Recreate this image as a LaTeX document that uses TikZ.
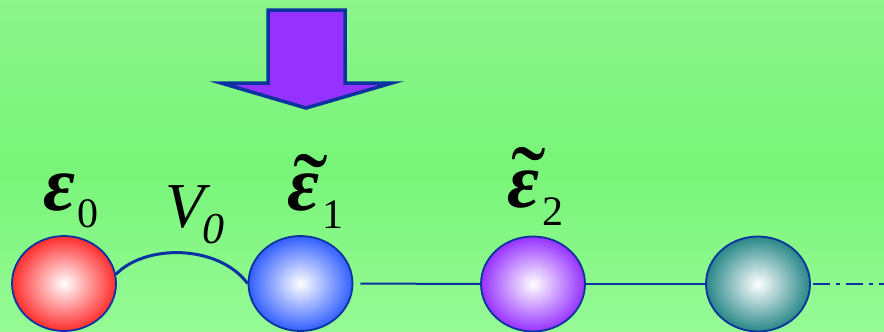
\documentclass[tikz,border=0pt]{standalone}
\usepackage{fontspec}
\setmainfont{Liberation Serif}
\usetikzlibrary{shapes.geometric}
\definecolor{bgtop}{RGB}{140,245,140}
\definecolor{bgmid}{RGB}{120,245,120}
\definecolor{bgbot}{RGB}{150,250,150}
\definecolor{edgeblue}{RGB}{10,50,160}
\definecolor{ballred}{RGB}{255,45,45}
\definecolor{ballblue}{RGB}{50,95,255}
\definecolor{ballpurple}{RGB}{150,50,255}
\definecolor{ballteal}{RGB}{40,135,135}
\definecolor{arrowfill}{RGB}{150,50,255}
\tikzset{
  ball/.style={ellipse, draw=edgeblue, line width=1.8pt, minimum width=104pt, minimum height=95pt, inner sep=0pt, inner color=white, outer color=#1},
  chain/.style={draw=edgeblue, line width=2pt},
  bigeps/.style={inner sep=0pt, anchor=base west, font=\fontsize{78}{78}\selectfont\bfseries\itshape},
  subs/.style={inner sep=0pt, anchor=base west, font=\fontsize{42}{42}\selectfont},
  tildemark/.style={inner sep=0pt, anchor=base, font=\fontsize{104}{104}\selectfont},
}
\begin{document}
\begin{tikzpicture}[x=1pt,y=-1pt]
\useasboundingbox (0,0) rectangle (884,332);
\shade[top color=bgtop, bottom color=bgmid] (0,0) rectangle (884,166);
\shade[top color=bgmid, bottom color=bgbot] (0,166) rectangle (884,332);
% arrow
\draw[fill=arrowfill, draw=edgeblue, line width=3.5pt, line join=miter]
  (268,10) -- (345,10) -- (345,83) -- (392,83) -- (306,108) -- (221,83) -- (268,83) -- cycle;
% balls
\node[ball=ballred] (r) at (64,283.5) {};
\node[ball=ballblue] (b) at (300.5,283.5) {};
\node[ball=ballpurple] (p) at (533,284) {};
\node[ball=ballteal] (t) at (758,284) {};
\coordinate (end) at (884,284);
% connectors
\draw[chain, shorten <=7pt] (b.east) -- (p.west);
\draw[chain] (p.east) -- (t.west);
\draw[chain, dash pattern=on 17pt off 6pt on 4pt off 6pt, dash phase=-2pt] (t.east) -- (end);
\draw[edgeblue, line width=3pt] (r.10) .. controls (145,244) and (218,244) .. (b.west);
% labels
\node[bigeps] (e0) at (43,210) {ε};
\node[subs] (s0) at (77,227) {0};
\node[inner sep=0pt, anchor=base west, font=\fontsize{64}{64}\selectfont\itshape] (v) at (165,227) {V};
\node[inner sep=0pt, anchor=base west, font=\fontsize{44}{44}\selectfont\itshape] (v0) at (202,243) {0};
\node[bigeps] (e1) at (287,210) {ε};
\node[subs] (s1) at (322,228) {1};
\node[tildemark] (t1) at (311,224) {˜};
\node[bigeps] (e2) at (507,207) {ε};
\node[subs] (s2) at (542,225) {2};
\node[tildemark] (t2) at (529,217) {˜};
\end{tikzpicture}
\end{document}
